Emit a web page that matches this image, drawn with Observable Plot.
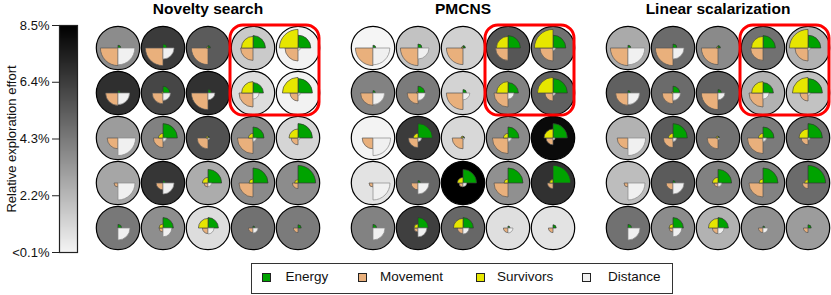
<!DOCTYPE html>
<html><head><meta charset="utf-8">
<script src="https://cdn.jsdelivr.net/npm/d3@7"></script>
<script src="https://cdn.jsdelivr.net/npm/@observablehq/plot@0.6"></script>
<style>
body{margin:0;background:#fff;font-family:"Liberation Sans",Arial,Helvetica,sans-serif;}
#root{position:relative;width:831px;height:295px;overflow:hidden;background:#fff;}
.abs{position:absolute;}
.sw{position:absolute;width:9px;height:9px;border:1px solid #222;box-sizing:border-box;}
.lt{position:absolute;font-size:13.5px;color:#111;line-height:16px;white-space:nowrap;}
</style></head><body><div id="root"></div>
<script>
// ---------- data ----------
const methods = ["Novelty search", "PMCNS", "Linear scalarization"];
const objectives = ["Energy", "Movement", "Survivors", "Distance"];
const objectiveColors = ["#00a300", "#e9b07c", "#e6e600", "#f0f0f0"];

// relative exploration effort (%) per grid cell, rows top to bottom
const effortNovelty = [
  [3.71, 6.49, 5.38, 1.56, 0.21],
  [6.90, 6.11, 6.83, 0.94, 0.21],
  [3.16, 4.09, 5.72, 3.78, 1.21],
  [2.81, 6.66, 2.60, 3.78, 3.71],
  [4.37, 3.64, 0.94, 4.61, 4.27]
];
const effortPMCNS = [
  [0.10, 1.84, 1.32, 5.55, 4.61],
  [4.06, 4.27, 1.28, 4.06, 5.20],
  [0.17, 6.49, 1.11, 3.78, 8.15],
  [0.73, 4.96, 8.50, 3.57, 6.83],
  [4.06, 6.35, 4.96, 0.87, 0.73]
];
const effortLinear = [
  [2.67, 4.82, 3.78, 4.61, 2.39],
  [5.20, 4.82, 5.17, 2.39, 1.84],
  [2.39, 5.38, 4.61, 4.27, 4.61],
  [2.01, 5.38, 4.09, 4.06, 4.82],
  [4.61, 3.71, 2.39, 3.57, 3.16]
];

// normalized objective scores per grid cell
const energy = [
  [0.14, 0.20, 0.12, 0.62, 0.64],
  [0.12, 0.34, 0.17, 0.52, 0.72],
  [0.00, 0.72, 0.08, 0.55, 0.72],
  [0.00, 0.12, 0.68, 0.75, 0.88],
  [0.18, 0.52, 0.52, 0.10, 0.16]
];
const movement = [
  [0.88, 0.88, 0.83, 0.62, 0.65],
  [0.62, 0.54, 0.83, 0.70, 0.40],
  [0.54, 0.48, 0.54, 0.78, 0.34],
  [0.20, 0.34, 0.20, 0.70, 0.28],
  [0.00, 0.20, 0.28, 0.23, 0.23]
];
const survivors = [
  [0.00, 0.00, 0.08, 0.58, 0.93],
  [0.00, 0.08, 0.00, 0.57, 0.78],
  [0.00, 0.23, 0.10, 0.23, 0.45],
  [0.00, 0.00, 0.28, 0.20, 0.17],
  [0.00, 0.20, 0.48, 0.00, 0.00]
];
const distance = [
  [0.84, 0.55, 0.00, 0.00, 0.12],
  [0.58, 0.37, 0.34, 0.30, 0.12],
  [0.88, 0.17, 0.08, 0.17, 0.10],
  [0.85, 0.55, 0.18, 0.00, 0.00],
  [0.60, 0.44, 0.30, 0.25, 0.00]
];

const effortTicks = [0.1, 2.2, 4.3, 6.4, 8.5];
const highlightCols = [3, 4];
const highlightRows = [0, 1];

// ---------- build ----------
const efforts = [effortNovelty, effortPMCNS, effortLinear];
const colorScale = {type: "linear", domain: [0.1, 8.5], range: ["#f5f5f5", "#000000"], clamp: true};
const FONT = "'Liberation Sans', Arial, Helvetica, sans-serif";

function quarter(a0, a1) {
  return {draw(ctx, size) {
    const r = Math.sqrt(size / Math.PI);
    ctx.moveTo(0, 0);
    ctx.lineTo(r * Math.cos(a0), r * Math.sin(a0));
    ctx.arc(0, 0, r, a0, a1);
    ctx.closePath();
  }};
}
const P = Math.PI;
const symbols = {
  energy: quarter(-P / 2, 0),
  distance: quarter(0, P / 2),
  movement: quarter(P / 2, P),
  survivors: quarter(P, 1.5 * P)
};

const root = document.getElementById("root");

methods.forEach((m, k) => {
  const cells = [];
  for (let r = 0; r < 5; r++) for (let c = 0; c < 5; c++) {
    cells.push({row: r, col: c, effort: efforts[k][r][c],
      energy: energy[r][c], movement: movement[r][c], survivors: survivors[r][c], distance: distance[r][c]});
  }
  const hl = [{x1: highlightCols[0] - 0.5, x2: highlightCols[1] + 0.5, y1: highlightRows[0] - 0.5, y2: highlightRows[1] + 0.5}];
  const wedge = (key, color, stroke) => Plot.dot(cells, {x: "col", y: "row", r: key, symbol: symbols[key], fill: color, stroke, strokeWidth: 0.7});
  const chart = Plot.plot({
    width: 236, height: 250, marginLeft: 10, marginRight: 1, marginTop: 25, marginBottom: 0,
    style: {fontFamily: FONT, background: "transparent", overflow: "visible"},
    x: {domain: [-0.5, 4.5], axis: null},
    y: {domain: [-0.5, 4.5], reverse: true, axis: null},
    r: {type: "linear", domain: [0, 1], range: [0, 20]},
    color: colorScale,
    marks: [
      Plot.dot(cells, {x: "col", y: "row", r: 21.7, fill: "effort", stroke: "#000", strokeWidth: 1.2}),
      wedge("energy", objectiveColors[0], "#333"),
      wedge("movement", objectiveColors[1], "#555"),
      wedge("survivors", objectiveColors[2], "#444"),
      wedge("distance", objectiveColors[3], "#888"),
      Plot.rect(hl, {x1: "x1", x2: "x2", y1: "y1", y2: "y2", rx: 13, fill: "none", stroke: "#ff0000", strokeWidth: 3, insetRight: 1}),
      Plot.text([m], {frameAnchor: "top", lineAnchor: "bottom", dy: -12, text: d => d, fontSize: 15.5, fontWeight: "bold", fill: "#000"})
    ]
  });
  chart.classList.add("abs");
  chart.style.left = (85 + 255 * k) + "px";
  chart.style.top = "0px";
  root.appendChild(chart);
});

// color bar
const bar = Plot.plot({
  width: 85, height: 295, marginLeft: 59, marginRight: 8, marginTop: 25, marginBottom: 43,
  style: {fontFamily: FONT, fontSize: "13px", color: "#111", background: "transparent"},
  x: {domain: [0, 1], axis: null},
  y: {domain: [0.1, 8.5], axis: null, label: null},
  color: colorScale,
  marks: [
    Plot.raster({fill: (x, y) => y, x1: 0, x2: 1, y1: 0.1, y2: 8.5, width: 1, height: 227}),
    Plot.frame({stroke: "#222", strokeWidth: 1.2}),
    Plot.axisY(effortTicks, {tickSize: 7, tickPadding: 3, fontSize: 13, label: null,
      tickFormat: d => d === 0.1 ? "<0.1%" : d + "%", stroke: "#222"})
  ]
});
bar.classList.add("abs");
bar.style.left = "0px"; bar.style.top = "0px";
root.appendChild(bar);

const lab = document.createElement("div");
lab.className = "abs";
lab.textContent = "Relative exploration effort";
Object.assign(lab.style, {left: "10.5px", top: "138.5px", fontSize: "13px", color: "#111", whiteSpace: "nowrap",
  transform: "translate(-50%,-50%) rotate(-90deg)", lineHeight: "15px"});
root.appendChild(lab);

// legend
const box = document.createElement("div");
box.className = "abs";
Object.assign(box.style, {left: "251px", top: "263px", width: "422px", height: "31px", border: "1px solid #333", boxSizing: "border-box"});
root.appendChild(box);
const swX = [262, 358, 476, 582];
const txX = [285.5, 380, 497, 608];
objectives.forEach((o, i) => {
  const s = document.createElement("div");
  s.className = "sw";
  Object.assign(s.style, {left: swX[i] + "px", top: "273px", background: objectiveColors[i]});
  root.appendChild(s);
  const t = document.createElement("div");
  t.className = "lt";
  t.textContent = o;
  Object.assign(t.style, {left: txX[i] + "px", top: "269px"});
  root.appendChild(t);
});
</script></body></html>
